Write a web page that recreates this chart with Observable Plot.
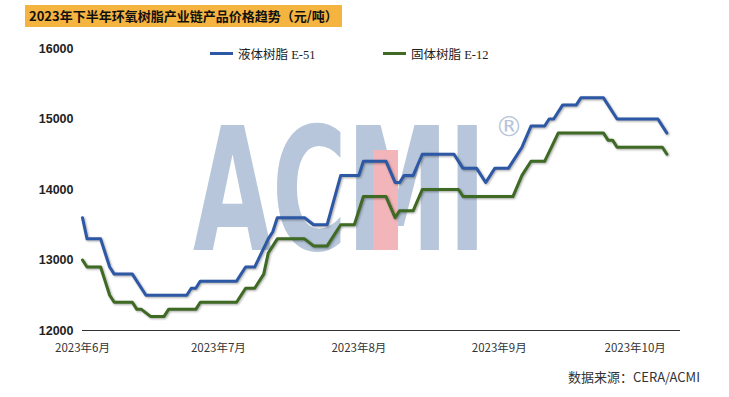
<!DOCTYPE html>
<html><head><meta charset="utf-8">
<script src="https://cdn.jsdelivr.net/npm/d3@7"></script>
<script src="https://cdn.jsdelivr.net/npm/@observablehq/plot@0.6"></script>
<style>
body{margin:0;background:#fff;}
#wrap{position:relative;width:729px;height:397px;overflow:hidden;font-family:"Noto Sans CJK SC",sans-serif;background:#fff;}
#wm{position:absolute;left:0;top:0;z-index:0;}
#chart{position:absolute;left:0;top:0;z-index:1;}
#title{position:absolute;left:25px;top:5px;height:22px;line-height:22px;padding:0 4px;background:#f5b440;font-weight:bold;font-size:13px;color:#111;z-index:2;white-space:nowrap;}
.leg{position:absolute;top:44px;font-family:"Liberation Serif","Noto Sans CJK SC",serif;font-size:12.5px;color:#222;z-index:2;white-space:nowrap;display:flex;align-items:center;}
.sw{display:inline-block;width:23px;height:3px;margin-right:5px;}
#src{position:absolute;right:29px;top:367px;font-size:13px;color:#333;z-index:2;white-space:nowrap;}
.shadow path{filter:drop-shadow(1.5px 1.5px 1px rgba(0,0,0,0.35));}
</style>
</head><body>
<div id="wrap">
  <svg id="wm" width="729" height="397">
    <text transform="translate(193,250) scale(1,1.68)" font-family="DejaVu Sans" font-weight="bold" font-size="102" fill="#b7c6da">ACMI</text>
    <rect x="373" y="150" width="25" height="100" fill="#f2b6ba"></rect>
    <text x="509" y="136" font-family="DejaVu Sans" font-size="28" fill="#b7c6da" text-anchor="middle">®</text>
  </svg>
  <div id="chart"></div>
  <div id="title">2023年下半年环氧树脂产业链产品价格趋势（元/吨）</div>
  <div class="leg" id="leg1" style="left:210px"><span class="sw" id="sw1"></span><span id="lt1"></span></div>
  <div class="leg" id="leg2" style="left:383px"><span class="sw" id="sw2"></span><span id="lt2"></span></div>
  <div id="src">数据来源：CERA/ACMI</div>
</div>
<script>
const seriesNames = ["液体树脂 E-51", "固体树脂 E-12"];
const seriesColors = ["#2d58a6", "#3e6a24"];

const e51Dates = ["2023-06-01","2023-06-02","2023-06-05","2023-06-06","2023-06-07","2023-06-08","2023-06-12","2023-06-15","2023-06-24","2023-06-25","2023-06-26","2023-06-27","2023-07-05","2023-07-07","2023-07-09","2023-07-12","2023-07-13","2023-07-14","2023-07-20","2023-07-22","2023-07-25","2023-07-28","2023-08-01","2023-08-02","2023-08-07","2023-08-09","2023-08-10","2023-08-11","2023-08-13","2023-08-15","2023-08-22","2023-08-24","2023-08-27","2023-08-29","2023-08-31","2023-09-03","2023-09-06","2023-09-08","2023-09-11","2023-09-12","2023-09-13","2023-09-15","2023-09-18","2023-09-19","2023-09-24","2023-09-27","2023-10-06","2023-10-08"];
const e51Values = [13600,13300,13300,13100,12900,12800,12800,12500,12500,12600,12600,12700,12700,12900,12900,13300,13400,13600,13600,13500,13500,14200,14200,14400,14400,14100,14100,14200,14200,14500,14500,14300,14300,14100,14300,14300,14600,14900,14900,15000,15000,15200,15200,15300,15300,15000,15000,14800];

const e12Dates = ["2023-06-01","2023-06-02","2023-06-05","2023-06-06","2023-06-07","2023-06-08","2023-06-12","2023-06-13","2023-06-14","2023-06-16","2023-06-19","2023-06-20","2023-06-26","2023-06-27","2023-07-05","2023-07-07","2023-07-09","2023-07-11","2023-07-12","2023-07-14","2023-07-20","2023-07-22","2023-07-25","2023-07-28","2023-07-31","2023-08-02","2023-08-07","2023-08-09","2023-08-10","2023-08-13","2023-08-15","2023-08-23","2023-08-24","2023-09-04","2023-09-06","2023-09-08","2023-09-11","2023-09-14","2023-09-24","2023-09-25","2023-09-26","2023-09-27","2023-10-07","2023-10-08"];
const e12Values = [13000,12900,12900,12700,12500,12400,12400,12300,12300,12200,12200,12300,12300,12400,12400,12600,12600,12800,13100,13300,13300,13200,13200,13500,13500,13900,13900,13600,13700,13700,14000,14000,13900,13900,14200,14400,14400,14800,14800,14700,14700,14600,14600,14500];

const tickDates = ["2023-06-01","2023-07-01","2023-08-01","2023-09-01","2023-10-01"];
const tickLabels = ["2023年6月","2023年7月","2023年8月","2023年9月","2023年10月"];
const yTicks = [12000,13000,14000,15000,16000];
const xDomain = ["2023-06-01","2023-10-11"];

const parse = s => new Date(s + "T00:00:00Z");
const e51 = e51Dates.map((d,i) => ({date: parse(d), value: e51Values[i], series: seriesNames[0]}));
const e12 = e12Dates.map((d,i) => ({date: parse(d), value: e12Values[i], series: seriesNames[1]}));
const ticks = tickDates.map(parse);

const chart = Plot.plot({
  width: 729,
  height: 397,
  marginLeft: 82,
  marginRight: 49,
  marginTop: 48,
  marginBottom: 67,
  style: {background: "transparent", fontFamily: "'Liberation Sans','Noto Sans CJK SC',sans-serif"},
  x: {type: "utc", domain: xDomain.map(parse)},
  y: {domain: [12000, 16000]},
  marks: [
    Plot.ruleY([12000], {stroke: "#333", strokeWidth: 1}),
    Plot.axisY({ticks: yTicks, tickSize: 0, tickPadding: 9, fontSize: 12.5, fontWeight: "bold", fill: "#222", label: null, tickFormat: d => String(d)}),
    Plot.axisX({ticks: ticks, tickSize: 0, tickPadding: 13, fontSize: 11.5, fill: "#333", label: null,
      tickFormat: d => tickLabels[ticks.findIndex(t => +t === +d)],
      fontFamily: "'Noto Sans CJK SC',sans-serif"}),
    Plot.line(e12, {x: "date", y: "value", stroke: seriesColors[1], strokeWidth: 3, className: "shadow", strokeLinejoin: "round"}),
    Plot.line(e51, {x: "date", y: "value", stroke: seriesColors[0], strokeWidth: 3, className: "shadow", strokeLinejoin: "round"})
  ]
});
document.getElementById("chart").appendChild(chart);
document.getElementById("sw1").style.background = seriesColors[0];
document.getElementById("sw2").style.background = seriesColors[1];
document.getElementById("lt1").textContent = seriesNames[0];
document.getElementById("lt2").textContent = seriesNames[1];
</script>
</body></html>
